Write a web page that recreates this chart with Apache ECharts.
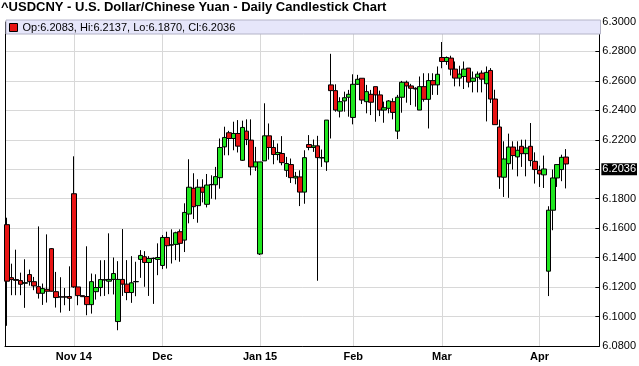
<!DOCTYPE html>
<html><head><meta charset="utf-8">
<script src="https://cdn.jsdelivr.net/npm/echarts@6/dist/echarts.min.js"></script>
<style>html,body{margin:0;padding:0;background:#fff}#c{width:639px;height:366px}</style>
</head><body><div id="c"></div>
<script>
const dates = [
'2014-10-13','2014-10-14','2014-10-15','2014-10-16','2014-10-17','2014-10-20','2014-10-21','2014-10-22','2014-10-23','2014-10-24','2014-10-27','2014-10-28','2014-10-29','2014-10-30','2014-10-31',
'2014-11-03','2014-11-04','2014-11-05','2014-11-06','2014-11-07','2014-11-10','2014-11-11','2014-11-12','2014-11-13','2014-11-14','2014-11-17','2014-11-18','2014-11-19','2014-11-20','2014-11-21','2014-11-24','2014-11-25','2014-11-26','2014-11-27','2014-11-28',
'2014-12-01','2014-12-02','2014-12-03','2014-12-04','2014-12-05','2014-12-08','2014-12-09','2014-12-10','2014-12-11','2014-12-12','2014-12-15','2014-12-16','2014-12-17','2014-12-18','2014-12-19','2014-12-22','2014-12-23','2014-12-24','2014-12-26','2014-12-29','2014-12-30','2014-12-31',
'2015-01-02','2015-01-05','2015-01-06','2015-01-07','2015-01-08','2015-01-09','2015-01-12','2015-01-13','2015-01-14','2015-01-15','2015-01-16','2015-01-19','2015-01-20','2015-01-21','2015-01-22','2015-01-23','2015-01-26','2015-01-27','2015-01-28','2015-01-29','2015-01-30',
'2015-02-02','2015-02-03','2015-02-04','2015-02-05','2015-02-06','2015-02-09','2015-02-10','2015-02-11','2015-02-12','2015-02-13','2015-02-16','2015-02-17','2015-02-18','2015-02-19','2015-02-20','2015-02-23','2015-02-24','2015-02-25','2015-02-26','2015-02-27',
'2015-03-02','2015-03-03','2015-03-04','2015-03-05','2015-03-06','2015-03-09','2015-03-10','2015-03-11','2015-03-12','2015-03-13','2015-03-16','2015-03-17','2015-03-18','2015-03-19','2015-03-20','2015-03-23','2015-03-24','2015-03-25','2015-03-26','2015-03-27','2015-03-30','2015-03-31',
'2015-04-01','2015-04-02','2015-04-03','2015-04-06','2015-04-07','2015-04-08','2015-04-09'
];
const padDates = ['2015-04-10','2015-04-13','2015-04-14','2015-04-15','2015-04-16','2015-04-17','2015-04-20'];

const opens = [
6.1624,6.1264,6.1251,6.1244,6.1226,6.1285,6.1237,6.1203,6.1158,6.1185,6.1461,6.1169,6.1134,6.1134,6.1136,
6.1834,6.1201,6.1142,6.1136,6.1081,6.1169,6.1197,6.1250,6.1240,6.1252,6.0966,6.1252,6.1220,6.1163,6.1236,6.1388,6.1406,6.1367,6.1394,6.1388,
6.1347,6.1537,6.1485,6.1490,6.1576,6.1519,6.1696,6.1871,6.1753,6.1878,6.1762,6.1895,6.1895,6.1943,6.2152,6.2248,6.2209,6.2243,6.2061,6.2259,6.2198,6.2016,
6.1425,6.2057,6.2227,6.2148,6.2100,6.2107,6.1993,6.2032,6.1941,6.1948,6.1845,6.2168,6.2148,6.2159,6.2077,6.2050,6.2573,6.2534,6.2395,6.2464,6.2489,
6.2352,6.2577,6.2618,6.2459,6.2509,6.2561,6.2505,6.2402,6.2414,6.2459,6.2259,6.2489,6.2591,6.2566,6.2550,6.2402,6.2561,6.2475,6.2602,6.2573,
6.2759,6.2732,6.2755,6.2680,6.2619,6.2630,6.2687,6.2597,6.2624,6.2653,6.2581,6.2671,6.2477,6.2287,6.1946,6.2038,6.2151,6.2084,6.2156,6.2106,6.2156,6.2054,
6.1993,6.1962,6.1308,6.1722,6.1941,6.1998,6.2083
];
const closes = [
6.1240,6.1251,6.1246,6.1219,6.1230,6.1237,6.1208,6.1158,6.1190,6.1172,6.1172,6.1129,6.1132,6.1132,6.1124,
6.1201,6.1142,6.1135,6.1081,6.1237,6.1197,6.1251,6.1248,6.1252,6.1292,6.1252,6.1220,6.1163,6.1229,6.1238,6.1415,6.1367,6.1394,6.1396,6.1401,
6.1537,6.1481,6.1487,6.1569,6.1497,6.1707,6.1878,6.1746,6.1878,6.1844,6.1893,6.1897,6.1950,6.2148,6.2216,6.2209,6.2243,6.2157,6.2284,6.2202,6.2016,6.2050,
6.2050,6.2227,6.2148,6.2100,6.2114,6.2045,6.2039,6.1943,6.1952,6.1845,6.2079,6.2148,6.2159,6.2079,6.2079,6.2334,6.2534,6.2402,6.2459,6.2486,6.2509,
6.2577,6.2611,6.2470,6.2527,6.2455,6.2505,6.2402,6.2418,6.2464,6.2386,6.2489,6.2591,6.2566,6.2550,6.2545,6.2561,6.2475,6.2602,6.2573,6.2645,
6.2732,6.2759,6.2680,6.2619,6.2646,6.2680,6.2592,6.2619,6.2646,6.2612,6.2658,6.2477,6.2303,6.1948,6.2070,6.2151,6.2093,6.2129,6.2106,6.2145,6.2059,6.1998,
6.1968,6.2002,6.1722,6.1941,6.2032,6.2081,6.2036
];
const lows = [
6.0937,6.1145,6.1145,6.1145,6.1059,6.1210,6.1179,6.1122,6.1079,6.1095,6.1170,6.1061,6.1027,6.1077,6.1038,
6.1195,6.1077,6.1133,6.1009,6.1020,6.1115,6.1138,6.1140,6.1152,6.1150,6.0907,6.1140,6.1111,6.1093,6.1138,6.1263,6.1202,6.1140,6.1086,6.1281,
6.1322,6.1326,6.1360,6.1383,6.1372,6.1438,6.1633,6.1662,6.1637,6.1775,6.1741,6.1800,6.1795,6.1868,6.2095,6.2095,6.2129,6.2114,6.2057,6.2164,6.1959,6.1989,
6.1418,6.2057,6.2066,6.2034,6.2061,6.2027,6.1948,6.1907,6.1898,6.1750,6.1766,6.2129,6.2118,6.1243,6.2016,6.1989,6.2209,6.2391,6.2352,6.2391,6.2357,
6.2305,6.2573,6.2443,6.2380,6.2368,6.2323,6.2361,6.2316,6.2380,6.2339,6.2205,6.2384,6.2452,6.2436,6.2425,6.2402,6.2459,6.2277,6.2505,6.2505,
6.2686,6.2709,6.2637,6.2563,6.2563,6.2545,6.2556,6.2522,6.2522,6.2522,6.2325,6.2450,6.2303,6.1867,6.1812,6.1806,6.1998,6.1952,6.2016,6.1952,6.2020,6.1903,
6.1880,6.1873,6.1139,6.1586,6.1880,6.1919,6.1870
];
const highs = [
6.1671,6.1359,6.1454,6.1298,6.1389,6.1319,6.1269,6.1612,6.1224,6.1558,6.1465,6.1303,6.1267,6.1194,6.1341,
6.2088,6.1201,6.1142,6.1477,6.1292,6.1287,6.1382,6.1383,6.1565,6.1401,6.1376,6.1594,6.1383,6.1410,6.1372,6.1451,6.1444,6.1410,6.1401,6.1497,
6.1553,6.1576,6.1592,6.1576,6.1592,6.1769,6.2068,6.1973,6.1932,6.1932,6.1968,6.1959,6.2016,6.2209,6.2289,6.2261,6.2323,6.2334,6.2330,6.2339,6.2339,6.2152,
6.2050,6.2448,6.2311,6.2198,6.2175,6.2225,6.2084,6.2073,6.1982,6.1993,6.2129,6.2232,6.2202,6.2227,6.2134,6.2334,6.2784,6.2577,6.2489,6.2527,6.2539,
6.2645,6.2641,6.2618,6.2573,6.2539,6.2561,6.2534,6.2459,6.2470,6.2482,6.2505,6.2600,6.2602,6.2580,6.2557,6.2630,6.2652,6.2652,6.2652,6.2698,
6.2864,6.2766,6.2771,6.2732,6.2703,6.2732,6.2687,6.2664,6.2664,6.2671,6.2698,6.2687,6.2540,6.2337,6.2190,6.2242,6.2190,6.2190,6.2201,6.2201,6.2314,6.2115,
6.2025,6.2093,6.1749,6.1998,6.2032,6.2099,6.2137
];

const monthStarts = ['2014-11-03','2014-12-01','2015-01-02','2015-02-02','2015-03-02','2015-04-01'];
const monthLabels = ['Nov 14','Dec','Jan 15','Feb','Mar','Apr'];
const yMin = 6.08, yMax = 6.30, yStep = 0.02;

const FONT = 'Liberation Sans, Arial, sans-serif';
const UP = '#1fe61f', DOWN = '#e81414';
const last = dates.length - 1;
const lastClose = closes[last];
const cats = dates.concat(padDates);
const ohlc = dates.map((d, i) => [opens[i], closes[i], lows[i], highs[i]]);
const isMonthStart = (i, v) => monthStarts.indexOf(v) >= 0;

const chart = echarts.init(document.getElementById('c'), null, {renderer: 'canvas'});
chart.setOption({
  animation: false,
  backgroundColor: '#fff',
  title: {
    text: '^USDCNY - U.S. Dollar/Chinese Yuan - Daily Candlestick Chart',
    left: 1, top: 1, padding: 0,
    textStyle: {fontFamily: FONT, fontSize: 13, fontWeight: 'bold', color: '#000'}
  },
  legend: {
    left: 6, top: 20, padding: [1, 4, 0, 3],
    selectedMode: false,
    itemWidth: 8, itemHeight: 8, itemTextGap: 4,
    backgroundColor: '#e6e6fa', borderColor: '#b4b4c8', borderWidth: 1,
    data: [{name: 'USDCNY', icon: 'rect', itemStyle: {color: DOWN, borderColor: '#000', borderWidth: 1}}],
    formatter: () => 'Op:' + opens[last].toFixed(4) + ', Hi:' + highs[last].toFixed(4) +
      ', Lo:' + lows[last].toFixed(4) + ', Cl:' + closes[last].toFixed(4),
    textStyle: {fontFamily: FONT, fontSize: 11, color: '#000', lineHeight: 13, width: 574}
  },
  grid: {left: 5, right: 38, top: 22, bottom: 20},
  xAxis: {
    type: 'category', data: cats, boundaryGap: true,
    axisLine: {show: true, onZero: false, lineStyle: {color: '#000', width: 1}},
    axisTick: {show: false},
    axisLabel: {
      interval: isMonthStart,
      formatter: v => monthLabels[monthStarts.indexOf(v)],
      fontFamily: FONT, fontSize: 11, fontWeight: 'bold', color: '#000', margin: 5
    },
    splitLine: {show: true, interval: isMonthStart, alignWithLabel: true, lineStyle: {color: '#d8d8d8', width: 1}}
  },
  yAxis: [{
    type: 'value', position: 'right', min: yMin, max: yMax, interval: yStep,
    axisLine: {show: true, lineStyle: {color: '#000', width: 1}},
    axisTick: {show: true, inside: true, length: 4, lineStyle: {color: '#000'}},
    axisLabel: {
      formatter: v => Math.abs(v - lastClose) < 0.006 ? '' : v.toFixed(4),
      fontFamily: FONT, fontSize: 11, color: '#000', margin: 3
    },
    splitLine: {show: true, lineStyle: {color: '#d8d8d8', width: 1}}
  }, {
    type: 'value', position: 'left', min: yMin, max: yMax, interval: yStep,
    axisLine: {show: true, lineStyle: {color: '#000', width: 1}},
    axisTick: {show: false}, axisLabel: {show: false}, splitLine: {show: false}
  }],
  series: [{
    name: 'USDCNY', type: 'candlestick', data: ohlc, barWidth: 5, clip: false,
    itemStyle: {color: UP, color0: DOWN, borderColor: '#000', borderColor0: '#000', borderColorDoji: '#000', borderWidth: 1},
    markLine: {
      silent: true, symbol: ['none', 'none'],
      lineStyle: {color: 'rgba(0,0,0,0)', width: 0, type: 'solid'},
      emphasis: {disabled: true},
      data: [{yAxis: lastClose}],
      label: {
        show: true, position: 'end', distance: 2, opacity: 1,
        formatter: () => lastClose.toFixed(4),
        color: '#fff', backgroundColor: '#000', padding: [1, 1, 0, 1],
        fontFamily: FONT, fontSize: 11
      }
    }
  }]
});
</script>
</body></html>
